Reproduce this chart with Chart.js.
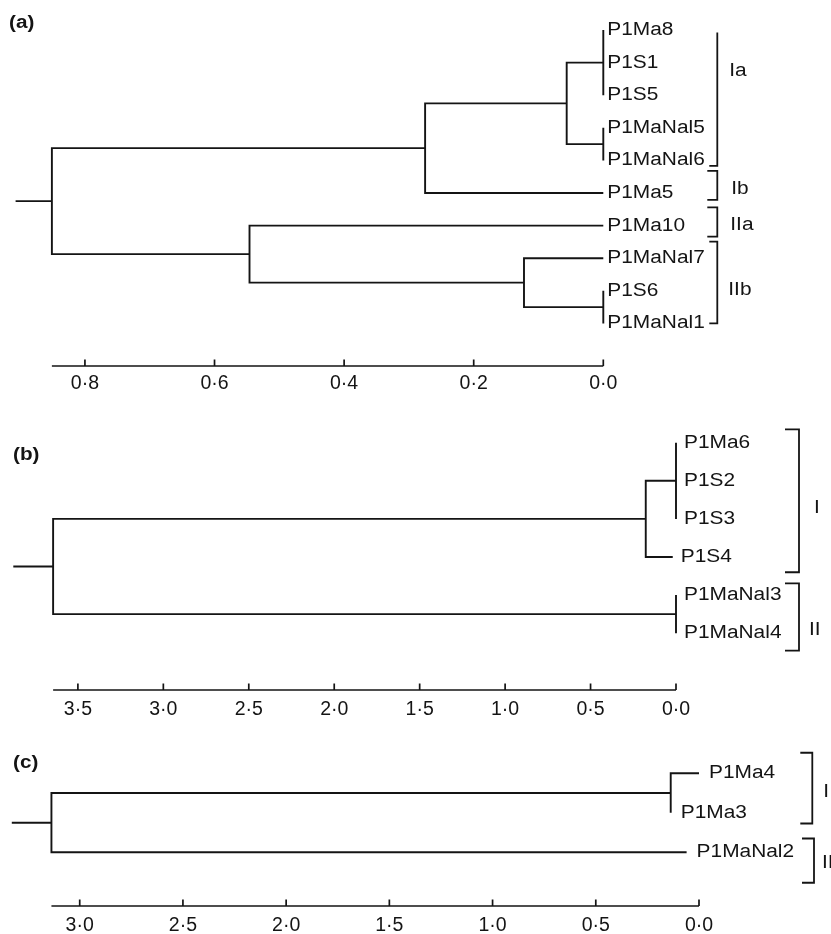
<!DOCTYPE html>
<html>
<head>
<meta charset="utf-8">
<script src="https://cdn.jsdelivr.net/npm/chart.js@4.4.1/dist/chart.umd.min.js"></script>
<style>
  html, body { margin: 0; padding: 0; background: #ffffff; }
  #wrap { position: relative; width: 831px; height: 934px; overflow: hidden; background: #fff; }
  .panel { position: absolute; left: 0; width: 831px; }
  canvas { display: block; }
</style>
</head>
<body>
<div id="wrap">
  <div class="panel" style="top:0px;height:400px"><canvas id="chartA" width="831" height="400"></canvas></div>
  <div class="panel" style="top:400px;height:330px"><canvas id="chartB" width="831" height="330"></canvas></div>
  <div class="panel" style="top:730px;height:204px"><canvas id="chartC" width="831" height="204"></canvas></div>
</div>
<script>
// ================= DATA =================
// ---- Panel (a) ----
const leavesA = ['P1Ma8', 'P1S1', 'P1S5', 'P1MaNal5', 'P1MaNal6', 'P1Ma5', 'P1Ma10', 'P1MaNal7', 'P1S6', 'P1MaNal1'];
const leafEndA = [0, 0, 0, 0, 0, 0, 0, 0, 0, 0];
const nodesA = ['a1', 'a2', 'a3', 'a4', 'a5', 'a6', 'a7', 'a8'];
const nodeKidsA = [['P1Ma8', 'P1S1', 'P1S5'], ['P1MaNal5', 'P1MaNal6'], ['a1', 'a2'], ['a3', 'P1Ma5'],
                   ['P1S6', 'P1MaNal1'], ['P1MaNal7', 'a5'], ['P1Ma10', 'a6'], ['a4', 'a7']];
const nodeHeightA = [0, 0, 0.0565, 0.275, 0, 0.1224, 0.546, 0.851];
const tickValuesA = [0.8, 0.6, 0.4, 0.2, 0.0];
const tickLabelsA = ['0·8', '0·6', '0·4', '0·2', '0·0'];
const groupNamesA = ['Ia', 'Ib', 'IIa', 'IIb'];

// ---- Panel (b) ----
const leavesB = ['P1Ma6', 'P1S2', 'P1S3', 'P1S4', 'P1MaNal3', 'P1MaNal4'];
const leafEndB = [0, 0, 0, 0.019, 0, 0];
const nodesB = ['b1', 'b2', 'b3', 'b4'];
const nodeKidsB = [['P1Ma6', 'P1S2', 'P1S3'], ['b1', 'P1S4'], ['P1MaNal3', 'P1MaNal4'], ['b2', 'b3']];
const nodeHeightB = [0, 0.177, 0, 3.645];
const tickValuesB = [3.5, 3.0, 2.5, 2.0, 1.5, 1.0, 0.5, 0.0];
const tickLabelsB = ['3·5', '3·0', '2·5', '2·0', '1·5', '1·0', '0·5', '0·0'];
const groupNamesB = ['I', 'II'];

// ---- Panel (c) ----
const leavesC = ['P1Ma4', 'P1Ma3', 'P1MaNal2'];
const leafEndC = [0, 0.137, 0.060];
const nodesC = ['c1', 'c2'];
const nodeKidsC = [['P1Ma4', 'P1Ma3'], ['c1', 'P1MaNal2']];
const nodeHeightC = [0.137, 3.137];
const tickValuesC = [3.0, 2.5, 2.0, 1.5, 1.0, 0.5, 0.0];
const tickLabelsC = ['3·0', '2·5', '2·0', '1·5', '1·0', '0·5', '0·0'];
const groupNamesC = ['I', 'II'];

// ================= STYLE =================
const FONT = '"Liberation Sans", Arial, Helvetica, sans-serif';
const INK = '#141414';
const LINE_W = 1.9;

// Build dendrogram line datasets from the tree arrays
function buildDatasets(leaves, leafEnd, nodes, kids, heights, stubTo) {
  const pos = {};
  leaves.forEach((n, i) => { pos[n] = { x: leafEnd[i], y: i }; });
  const sets = [];
  const mk = (data) => ({
    data, showLine: true, pointRadius: 0, pointHoverRadius: 0, borderColor: INK,
    borderWidth: LINE_W, tension: 0, fill: false, clip: false,
    borderCapStyle: 'butt', borderJoinStyle: 'miter'
  });
  nodes.forEach((n, k) => {
    const ch = kids[k].map(c => pos[c]);
    const h = heights[k];
    const first = ch[0], last = ch[ch.length - 1];
    sets.push(mk([{ x: first.x, y: first.y }, { x: h, y: first.y }, { x: h, y: last.y }, { x: last.x, y: last.y }]));
    ch.slice(1, -1).forEach(c => sets.push(mk([{ x: h, y: c.y }, { x: c.x, y: c.y }])));
    pos[n] = { x: h, y: (first.y + last.y) / 2 };
  });
  const root = pos[nodes[nodes.length - 1]];
  sets.push(mk([{ x: root.x, y: root.y }, { x: stubTo, y: root.y }]));
  return sets;
}

function drawStretched(ctx, text, x, y, sx) {
  ctx.save();
  ctx.translate(x, y);
  ctx.scale(sx, 1);
  ctx.fillText(text, 0, 0);
  ctx.restore();
}

const dendroPlugin = {
  id: 'dendro',
  afterDatasetsDraw(chart, args, o) {
    const ctx = chart.ctx, xs = chart.scales.x, ys = chart.scales.y, ca = chart.chartArea;
    ctx.save();
    ctx.strokeStyle = INK; ctx.fillStyle = INK;
    ctx.lineCap = 'butt'; ctx.lineJoin = 'miter';
    // axis line + upward ticks
    ctx.lineWidth = 1.7;
    const yb = ca.bottom;
    ctx.beginPath();
    ctx.moveTo(xs.getPixelForValue(o.axisFrom), yb);
    ctx.lineTo(xs.getPixelForValue(0), yb);
    xs.ticks.forEach(t => {
      const px = xs.getPixelForValue(t.value);
      ctx.moveTo(px, yb); ctx.lineTo(px, yb - o.tickLen);
    });
    ctx.stroke();
    // leaf labels
    ctx.font = `${o.fontSize}px ${FONT}`;
    ctx.textBaseline = 'middle'; ctx.textAlign = 'left';
    o.leaves.forEach((name, i) => {
      drawStretched(ctx, name, xs.getPixelForValue(o.leafEnd[i]) + o.labelGap, ys.getPixelForValue(i), o.stretch);
    });
    // group brackets
    const x0 = xs.getPixelForValue(0);
    ctx.lineWidth = 1.8;
    o.brackets.forEach((b, i) => {
      const bx = x0 + b.dx, t = ys.getPixelForValue(b.from), btm = ys.getPixelForValue(b.to);
      ctx.beginPath();
      if (b.topTick === false) { ctx.moveTo(bx, t); }
      else { ctx.moveTo(bx - b.tick, t); ctx.lineTo(bx, t); }
      ctx.lineTo(bx, btm);
      ctx.lineTo(bx - b.tick, btm);
      ctx.stroke();
      drawStretched(ctx, o.groups[i], bx + b.gap, ys.getPixelForValue(b.labelAt), o.stretch);
    });
    // panel letter
    ctx.font = `bold ${o.letterSize}px ${FONT}`;
    ctx.textBaseline = 'middle';
    drawStretched(ctx, o.letter, o.letterX, o.letterY, 1.15);
    ctx.restore();
  }
};

function makeChart(id, cfg) {
  const xMax = cfg.xMax;
  new Chart(document.getElementById(id), {
    type: 'scatter',
    data: { datasets: buildDatasets(cfg.leaves, cfg.leafEnd, cfg.nodes, cfg.kids, cfg.heights, xMax) },
    options: {
      responsive: false,
      animation: false,
      events: [],
      layout: { padding: cfg.padding },
      scales: {
        x: {
          type: 'linear', min: 0, max: xMax, reverse: true,
          grid: { display: false, drawTicks: false },
          border: { display: false },
          afterBuildTicks: s => { s.ticks = cfg.tickValues.map(v => ({ value: v })); },
          afterFit: s => { s.height = cfg.axisHeight; },
          ticks: {
            padding: cfg.tickPad, color: INK, maxRotation: 0, autoSkip: false,
            font: { family: FONT, size: 19.5 },
            callback: (v, i) => cfg.tickLabels[i]
          }
        },
        y: { type: 'linear', display: false, min: cfg.yMin, max: cfg.yMax, reverse: true }
      },
      plugins: {
        legend: { display: false },
        tooltip: { enabled: false },
        dendro: {
          axisFrom: cfg.heights[cfg.heights.length - 1],
          tickLen: 6.5, fontSize: 18, stretch: 1.16,
          leaves: cfg.leaves, leafEnd: cfg.leafEnd, labelGap: cfg.labelGap,
          groups: cfg.groups, brackets: cfg.brackets,
          letter: cfg.letter, letterX: cfg.letterX, letterY: cfg.letterY, letterSize: 18
        }
      }
    },
    plugins: [dendroPlugin]
  });
}

makeChart('chartA', {
  leaves: leavesA, leafEnd: leafEndA, nodes: nodesA, kids: nodeKidsA, heights: nodeHeightA,
  tickValues: tickValuesA, tickLabels: tickLabelsA, groups: groupNamesA,
  xMax: 0.907, yMin: -0.5, yMax: 10.307,
  padding: { left: 15.6, right: 227.7, top: 13.7, bottom: 0 }, axisHeight: 34, tickPad: 6,
  labelGap: 4,
  brackets: [
    { from: 0.08, to: 4.17, labelAt: 1.26, dx: 114, tick: 8, gap: 12, topTick: false },
    { from: 4.32, to: 5.21, labelAt: 4.88, dx: 114, tick: 10, gap: 14 },
    { from: 5.44, to: 6.34, labelAt: 5.97, dx: 114, tick: 10, gap: 13 },
    { from: 6.49, to: 9.0, labelAt: 7.97, dx: 114, tick: 8, gap: 11 }
  ],
  letter: '(a)', letterX: 9, letterY: 23
});

makeChart('chartB', {
  leaves: leavesB, leafEnd: leafEndB, nodes: nodesB, kids: nodeKidsB, heights: nodeHeightB,
  tickValues: tickValuesB, tickLabels: tickLabelsB, groups: groupNamesB,
  xMax: 3.878, yMin: -1, yMax: 6.491,
  padding: { left: 13.3, right: 155, top: 4.6, bottom: 0 }, axisHeight: 40, tickPad: 7.5,
  labelGap: 8,
  brackets: [
    { from: -0.35, to: 3.40, labelAt: 1.71, dx: 123, tick: 14, gap: 15 },
    { from: 3.69, to: 5.46, labelAt: 4.92, dx: 123, tick: 14, gap: 10 }
  ],
  letter: '(b)', letterX: 13, letterY: 55
});

makeChart('chartC', {
  leaves: leavesC, leafEnd: leafEndC, nodes: nodesC, kids: nodeKidsC, heights: nodeHeightC,
  tickValues: tickValuesC, tickLabels: tickLabelsC, groups: groupNamesC,
  xMax: 3.329, yMin: -1, yMax: 3.359,
  padding: { left: 11.8, right: 132, top: 3.8, bottom: 0 }, axisHeight: 28, tickPad: 7.5,
  labelGap: 10,
  brackets: [
    { from: -0.52, to: 1.27, labelAt: 0.47, dx: 113.3, tick: 12, gap: 11 },
    { from: 1.65, to: 2.77, labelAt: 2.27, dx: 115, tick: 12, gap: 8 }
  ],
  letter: '(c)', letterX: 13, letterY: 33.5
});
</script>
</body>
</html>
